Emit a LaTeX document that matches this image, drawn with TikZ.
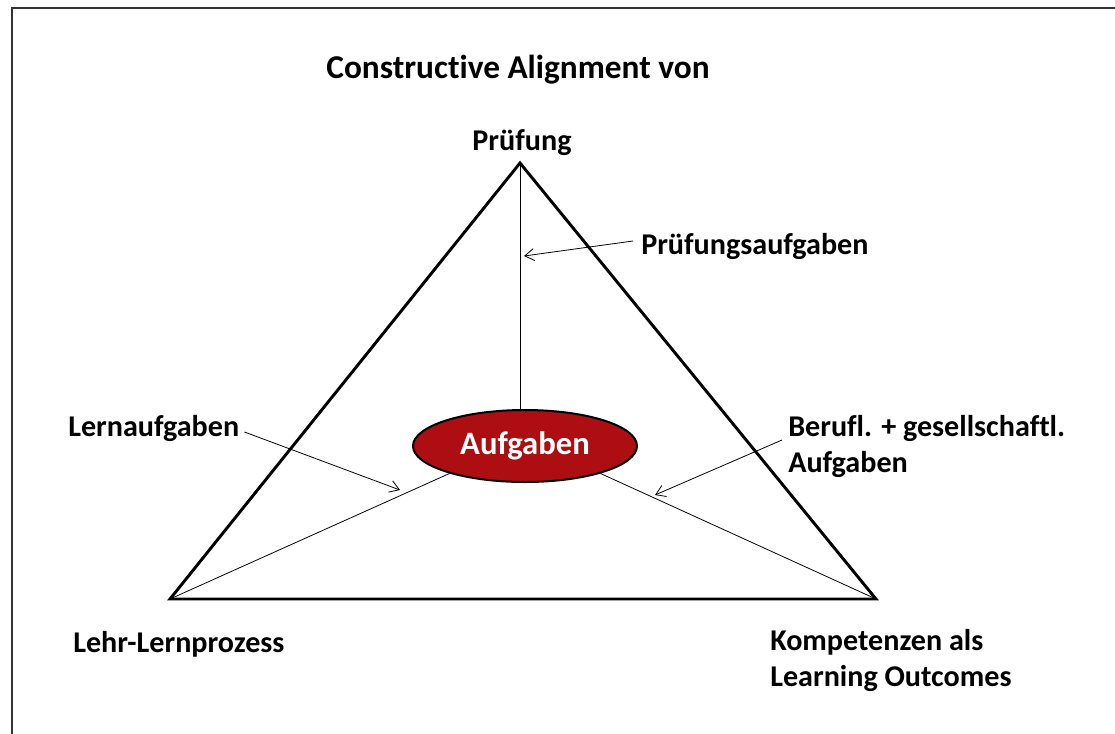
\documentclass[tikz,border=0pt]{standalone}
\usepackage{fontspec}
\setmainfont[Ligatures={NoCommon}]{Carlito}
\usetikzlibrary{shapes.geometric,arrows.meta}
\definecolor{ared}{HTML}{AC0E12}
\begin{document}
\begin{tikzpicture}[x=0.75pt,y=-0.75pt,
  lbl/.style={font=\fontsize{22.6}{27}\selectfont\bfseries, inner sep=0pt, align=left},
  side/.style={line width=2.2pt, line join=miter},
  thin/.style={line width=0.6pt},
  pointer/.style={line width=0.6pt, -{Straight Barb[length=7pt,width=9pt]}}]
\useasboundingbox (0,0) rectangle (1115,733);
\draw[line width=1.5pt, black!80] (12,740) -- (12,8) -- (1120,8);
\node[font=\fontsize{25}{30}\selectfont\bfseries, inner sep=0pt] (title) at (518,70) {Constructive Alignment von};
\coordinate (A) at (520,163);
\coordinate (L) at (170,599);
\coordinate (R) at (876,599);
\node[ellipse, draw=black, line width=1.5pt, fill=ared, minimum width=168pt, minimum height=54pt, inner sep=0pt,
  text=white, font=\fontsize{24.5}{28}\selectfont\bfseries] (E) at (525,446) {Aufgaben};
\draw[thin] (A) -- (E.north -| A);
\draw[thin] (E.200) -- (L);
\draw[thin] (E.-20) -- (R);
\draw[side] (A) -- (L) -- (R) -- cycle;
\node[lbl] (pr) at (522,143) {Prüfung};
\node[lbl, anchor=west] (pa) at (641,246) {Prüfungsaufgaben};
\node[lbl, anchor=west] (la) at (68,428) {Lernaufgaben};
\node[lbl, anchor=north west] (ba) at (788,415) {Berufl. + gesellschaftl.\\Aufgaben};
\node[lbl, anchor=west] (lp) at (73,644) {Lehr-Lernprozess};
\node[lbl, anchor=north west] (ko) at (770,629) {Kompetenzen als\\Learning Outcomes};
\coordinate (pt1) at (524,256);
\coordinate (pt2) at (400,490);
\coordinate (pt3) at (655,495);
\draw[pointer] (pa.west) ++(-8,-5) -- (pt1);
\draw[pointer] (la.east) ++(5,4) -- (pt2);
\draw[pointer] (ba.north west) ++(-6,25) -- (pt3);
\end{tikzpicture}
\end{document}
